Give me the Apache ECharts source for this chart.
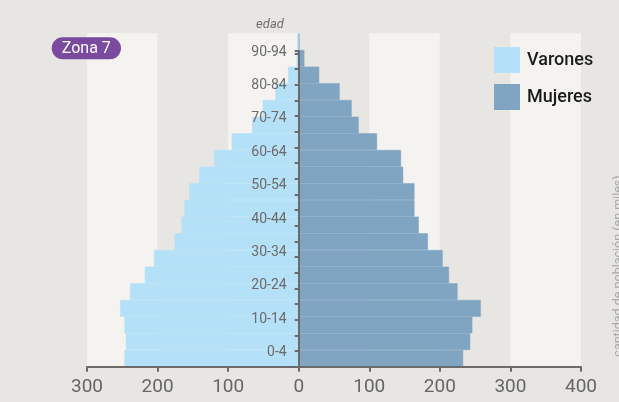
<!DOCTYPE html>
<html><head><meta charset="utf-8">
<script src="https://cdn.jsdelivr.net/npm/echarts@6/dist/echarts.min.js"></script>
<style>html,body{margin:0;padding:0;background:#e8e6e3;}#c{width:619px;height:402px;}</style>
</head><body><div id="c"></div>
<script>
// Age groups (bottom to top)
const ageGroups = ['0-4','5-9','10-14','15-19','20-24','25-29','30-34','35-39','40-44','45-49','50-54','55-59','60-64','65-69','70-74','75-79','80-84','85-89','90-94','95+'];
// Population in thousands
const varones = [247, 245, 247, 253, 239, 218, 205, 176, 166, 162, 155, 141, 120, 95, 66, 51, 33, 15, 3, 2];
const mujeres = [233, 243, 246, 258, 225, 213, 204, 183, 170, 164, 164, 148, 145, 111, 85, 75, 58, 29, 8, 1];
const xMin = -300, xMax = 400, xStep = 100;
const seriesNames = ['Varones', 'Mujeres'];
const zoneLabel = 'Zona 7';
const yTitle = 'edad';
const xTitle = 'cantidad de población (en miles)';

const FONT = 'Roboto';
const AX = '#6b6b6b';
const C_V = '#b4e1f7', C_M = '#7fa5c2';
const chart = echarts.init(document.getElementById('c'), null, {renderer: 'canvas'});
chart.setOption({
  animation: false,
  backgroundColor: '#e8e6e3',
  textStyle: {fontFamily: FONT},
  grid: [
    {left: 87, right: 38, top: 33.33, bottom: 35.33},
    {left: 298.71, width: 1, top: 51, bottom: 35.33},
    {left: 298.71, width: 1, top: 33.33, bottom: 35.33}
  ],
  legend: {
    data: seriesNames,
    orient: 'vertical', left: 494, top: 47, padding: 0,
    itemWidth: 24, itemHeight: 24, itemGap: 11, icon: 'rect',
    textStyle: {fontSize: 18, color: '#1c1c1c', fontWeight: 500, fontFamily: FONT, padding: [0, 0, 0, 3]}
  },
  xAxis: [
    {
      gridIndex: 0, type: 'value', min: xMin, max: xMax, interval: xStep,
      axisLine: {show: false}, axisTick: {show: false}, axisLabel: {show: false},
      splitLine: {show: false},
      splitArea: {show: true, areaStyle: {color: ['#f4f3f0', '#e8e6e3']}}
    },
    {gridIndex: 1, type: 'value', min: 0, max: 1, show: false},
    {
      gridIndex: 0, type: 'value', position: 'bottom', offset: 0, min: xMin, max: xMax, interval: xStep, z: 10,
      axisLine: {show: true, onZero: false, lineStyle: {color: AX, width: 2}},
      axisTick: {show: true, length: 5, lineStyle: {color: AX, width: 2}},
      axisLabel: {formatter: v => Math.abs(v), fontSize: 19, color: '#666', margin: 11, fontFamily: FONT},
      splitLine: {show: false}, splitArea: {show: false}
    },
    {gridIndex: 2, type: 'value', min: 0, max: 1, show: false}
  ],
  yAxis: [
    {gridIndex: 0, type: 'category', data: ageGroups, show: false},
    {
      gridIndex: 1, type: 'value', min: -1.02, max: 19.13, interval: 1, position: 'left', z: 10,
      axisLine: {show: true, onZero: false, lineStyle: {color: AX, width: 2}},
      axisTick: {show: true, length: 4, lineStyle: {color: AX, width: 2}},
      axisLabel: {show: false},
      splitLine: {show: false}
    },
    {
      gridIndex: 2, type: 'category', data: ageGroups, position: 'left', z: 10,
      axisLine: {show: false, onZero: false},
      axisTick: {show: false},
      axisLabel: {interval: 1, fontSize: 14, color: AX, margin: 12, verticalAlign: 'bottom', lineHeight: 12, fontFamily: FONT},
      splitLine: {show: false}
    }
  ],
  series: [
    {
      name: seriesNames[0], type: 'bar', xAxisIndex: 0, yAxisIndex: 0,
      data: varones.map(v => -v), barCategoryGap: '0%', barGap: '-100%',
      itemStyle: {color: C_V, borderColor: C_V, borderWidth: 0.5}
    },
    {
      name: seriesNames[1], type: 'bar', xAxisIndex: 0, yAxisIndex: 0,
      data: mujeres, barCategoryGap: '0%', barGap: '-100%',
      itemStyle: {color: C_M, borderColor: C_M, borderWidth: 0.5}
    }
  ],
  graphic: [
    {type: 'rect', z: 100, left: 51.7, top: 37.3, shape: {width: 69.3, height: 22, r: 11}, style: {fill: '#7a4a9e'}},
    {type: 'text', z: 101, x: 86.3, y: 48.5, style: {text: zoneLabel, fill: '#fff', fontSize: 16, fontFamily: FONT, align: 'center', verticalAlign: 'middle'}},
    {type: 'text', z: 100, x: 270, y: 25, style: {text: yTitle, fill: '#707070', fontSize: 13, fontStyle: 'italic', fontFamily: FONT, align: 'center', verticalAlign: 'middle'}},
    {type: 'text', z: 100, x: 619, y: 266, rotation: Math.PI / 2, style: {text: xTitle, fill: '#a8a8a8', fontSize: 12.5, fontFamily: FONT, align: 'center', verticalAlign: 'middle'}}
  ]
});
</script>
</body></html>
